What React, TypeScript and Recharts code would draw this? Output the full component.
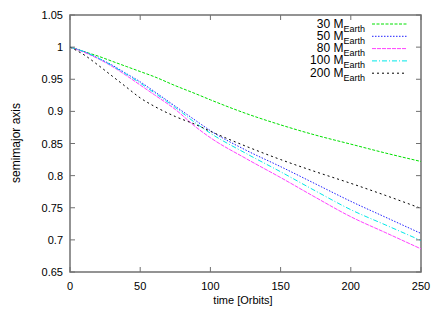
import * as React from 'react';
import {
  LineChart,
  Line,
  XAxis,
  YAxis,
  Legend,
  ReferenceArea,
} from 'recharts';

// orbits
const times = [0, 10, 20, 30, 40, 50, 60, 75, 90, 100, 125, 150, 175, 200, 225, 250];

// semimajor axis per planet mass
const m30 = [1.0, 0.993, 0.986, 0.978, 0.97, 0.962, 0.954, 0.94, 0.927, 0.918, 0.897, 0.879, 0.863, 0.849, 0.835, 0.822];
const m50 = [1.0, 0.993, 0.983, 0.972, 0.959, 0.946, 0.931, 0.908, 0.885, 0.87, 0.84, 0.814, 0.787, 0.76, 0.735, 0.71];
const m80 = [1.0, 0.992, 0.982, 0.97, 0.956, 0.941, 0.926, 0.903, 0.875, 0.859, 0.827, 0.797, 0.766, 0.736, 0.711, 0.686];
const m100 = [1.0, 0.993, 0.983, 0.971, 0.958, 0.944, 0.929, 0.906, 0.881, 0.866, 0.835, 0.806, 0.776, 0.747, 0.723, 0.699];
const m200 = [1.0, 0.988, 0.972, 0.955, 0.938, 0.921, 0.908, 0.892, 0.879, 0.869, 0.846, 0.825, 0.806, 0.788, 0.769, 0.749];

const xTicks = [0, 50, 100, 150, 200, 250];
const yTicks = [0.65, 0.7, 0.75, 0.8, 0.85, 0.9, 0.95, 1.0, 1.05];

const series = [
  { key: 'm30', mass: '30', values: m30, color: '#00e000', dash: '3 1.5' },
  { key: 'm50', mass: '50', values: m50, color: '#2020ff', dash: '1.5 1.5' },
  { key: 'm80', mass: '80', values: m80, color: '#ff40ff', dash: '4 1' },
  { key: 'm100', mass: '100', values: m100, color: '#00e8e8', dash: '5 2 1 2' },
  { key: 'm200', mass: '200', values: m200, color: '#000000', dash: '2 3' },
];

const data = times.map((t, i) => {
  const row: Record<string, number> = { t };
  series.forEach((s) => {
    row[s.key] = s.values[i];
  });
  return row;
});

const FONT = '"Liberation Sans", Arial, Helvetica, sans-serif';
const PLOT = { left: 70, top: 15, right: 421, bottom: 272 };
const TICK = 5;
const AXIS_COLOR = '#707070';

const fmtY = (v: number) => String(Number(v.toFixed(2)));

function XTick(props: any) {
  const { x, payload } = props;
  return (
    <g>
      <line x1={x} x2={x} y1={PLOT.bottom} y2={PLOT.bottom - TICK} stroke={AXIS_COLOR} strokeWidth={1} />
      <line x1={x} x2={x} y1={PLOT.top} y2={PLOT.top + TICK} stroke={AXIS_COLOR} strokeWidth={1} />
      <text x={x} y={PLOT.bottom + 18} textAnchor="middle" fontSize={11} fontFamily={FONT} fill="#000">
        {payload.value}
      </text>
    </g>
  );
}

function YTick(props: any) {
  const { y, payload } = props;
  return (
    <g>
      <line x1={PLOT.left} x2={PLOT.left + TICK} y1={y} y2={y} stroke={AXIS_COLOR} strokeWidth={1} />
      <line x1={PLOT.right} x2={PLOT.right - TICK} y1={y} y2={y} stroke={AXIS_COLOR} strokeWidth={1} />
      <text x={PLOT.left - 7} y={y + 4} textAnchor="end" fontSize={11} fontFamily={FONT} fill="#000">
        {fmtY(payload.value)}
      </text>
    </g>
  );
}

function MassLegend() {
  return (
    <svg width={170} height={72} style={{ display: 'block' }}>
      {series.map((s, i) => {
        const cy = 10 + i * 12.3;
        return (
          <g key={s.key}>
            <text x={115} y={cy + 3.5} textAnchor="end" fontSize={12} fontFamily={FONT} fill="#000">
              <tspan>{s.mass} M</tspan>
              <tspan dy={4} fontSize={9}>Earth</tspan>
            </text>
            <line x1={122} x2={157} y1={cy} y2={cy} stroke={s.color} strokeWidth={1} strokeDasharray={s.dash} />
          </g>
        );
      })}
    </svg>
  );
}

export default function App() {
  return (
    <div style={{ position: 'absolute', left: 0, top: 0, width: 442, height: 309, background: '#fff' }}>
      <LineChart
        width={442}
        height={309}
        data={data}
        margin={{ top: PLOT.top, right: 442 - PLOT.right, left: 0, bottom: 0 }}
      >
        <XAxis
          dataKey="t"
          type="number"
          domain={[0, 250]}
          ticks={xTicks}
          height={309 - PLOT.bottom}
          tickSize={0}
          tickMargin={0}
          tickLine={false}
          axisLine={false}
          tick={<XTick />}
          interval={0}
        />
        <YAxis
          type="number"
          domain={[0.65, 1.05]}
          ticks={yTicks}
          width={PLOT.left}
          tickSize={0}
          tickMargin={0}
          tickLine={false}
          axisLine={false}
          tick={<YTick />}
          interval={0}
        />
        <ReferenceArea
          x1={0}
          x2={250}
          y1={0.65}
          y2={1.05}
          fill="none"
          fillOpacity={0}
          stroke={AXIS_COLOR}
          strokeWidth={1.5}
          ifOverflow="visible"
        />
        {series.map((s) => (
          <Line
            key={s.key}
            type="monotone"
            dataKey={s.key}
            stroke={s.color}
            strokeWidth={1}
            strokeDasharray={s.dash}
            dot={false}
            activeDot={false}
            isAnimationActive={false}
          />
        ))}
        <Legend
          layout="vertical"
          align="center"
          verticalAlign="middle"
          content={() => <MassLegend />}
          wrapperStyle={{ top: 14, left: 250, width: 170, height: 72 }}
        />
        <text x={243} y={304} textAnchor="middle" fontSize={11} fontFamily={FONT} fill="#000">
          time [Orbits]
        </text>
        <text
          x={20}
          y={143}
          transform="rotate(-90 20 143)"
          textAnchor="middle"
          fontSize={12}
          fontFamily={FONT}
          fill="#000"
        >
          semimajor axis
        </text>
      </LineChart>
    </div>
  );
}
